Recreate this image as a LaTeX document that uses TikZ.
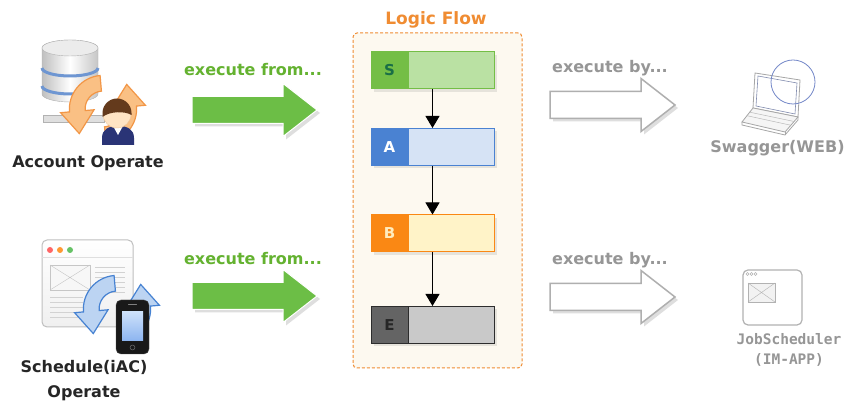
\documentclass[tikz,border=0pt]{standalone}
\usepackage{fontspec}
\setmainfont{DejaVu Sans}
\setmonofont{DejaVu Sans Mono}
\usetikzlibrary{positioning,arrows.meta,shadows,calc}

\definecolor{flowOrange}{RGB}{240,140,50}
\definecolor{panelFill}{RGB}{253,249,240}
\definecolor{sDark}{RGB}{116,190,70}
\definecolor{sLight}{RGB}{186,225,163}
\definecolor{sText}{RGB}{25,110,70}
\definecolor{aDark}{RGB}{74,130,210}
\definecolor{aLight}{RGB}{214,227,245}
\definecolor{bDark}{RGB}{250,136,20}
\definecolor{bLight}{RGB}{255,243,200}
\definecolor{bText}{RGB}{255,236,190}
\definecolor{eDark}{RGB}{100,100,100}
\definecolor{eLight}{RGB}{201,201,201}
\definecolor{eLine}{RGB}{45,45,45}
\definecolor{runGreen}{RGB}{108,190,70}
\definecolor{runGreenText}{RGB}{100,178,48}
\definecolor{idleGray}{RGB}{175,175,175}
\definecolor{labelGray}{RGB}{150,150,150}
\definecolor{cycOrange}{RGB}{242,150,70}
\definecolor{cycOrangeFill}{RGB}{250,192,132}
\definecolor{cycBlue}{RGB}{70,130,210}
\definecolor{cycBlueFill}{RGB}{188,212,242}
\definecolor{dbBand}{RGB}{110,150,210}
\definecolor{hairBrown}{RGB}{100,58,28}
\definecolor{suitNavy}{RGB}{42,52,118}
\definecolor{skin}{RGB}{255,228,196}
\definecolor{screenTop}{RGB}{205,225,250}
\definecolor{screenBottom}{RGB}{140,180,240}
\definecolor{globeBlue}{RGB}{115,135,200}
\definecolor{lidBlue}{RGB}{130,140,175}

% one bent arrow of a cycle icon: start angle, end angle, style
\newcommand{\cycpart}[3]{%
  \path[#3] (#1:30) arc[start angle=#1,end angle=#2,radius=30]
    -- (#2:38) -- ($(#2:23)+({#2+90}:20)$) -- (#2:8) -- (#2:16)
    arc[start angle=#2,end angle=#1,radius=16] -- cycle;}

\tikzset{
  blockarrow/.pic={
    \path[fill=black,opacity=.13,shift={(3,-3)}] (0,-13.5) -- (91,-13.5) -- (91,-26.5)
      -- (125,0) -- (91,26.5) -- (91,13.5) -- (0,13.5) -- cycle;
    \path[pic actions] (0,-13.5) -- (91,-13.5) -- (91,-26.5)
      -- (125,0) -- (91,26.5) -- (91,13.5) -- (0,13.5) -- cycle;
  }
}

\begin{document}
\begin{tikzpicture}[x=1pt,y=1pt,
  labelfont/.style={font=\bfseries\fontsize{16}{19}\selectfont},
  panel/.style={draw=flowOrange,fill=panelFill,dash pattern=on 3pt off 2pt,line width=1,
    rounded corners=4,minimum width=169,minimum height=335},
  flowbox/.style={draw,line width=1,minimum width=123,minimum height=37,inner sep=0,
    drop shadow={opacity=.18,shadow xshift=3pt,shadow yshift=-3pt}},
  tagbox/.style={draw,line width=1,minimum width=37,minimum height=37,inner sep=0,anchor=west,
    font=\bfseries\fontsize{15}{18}\selectfont},
  link/.style={-{Triangle[width=14pt,length=12pt]},line width=1}
]
  \path[use as bounding box,fill=white] (0,0) rectangle (844,406);

  % logic flow panel
  \node[panel] (flow) at (437.5,205.5) {};
  \node[font=\bfseries\fontsize{17}{20}\selectfont,text=flowOrange] (flowTitle) at (436,386) {Logic Flow};

  \node[flowbox,draw=sDark,fill=sLight] (S) at (432.5,335.5) {};
  \node[tagbox,draw=sDark,fill=sDark,text=sText] (Stag) at (S.west) {S};
  \node[flowbox,draw=aDark,fill=aLight] (A) at (432.5,259) {};
  \node[tagbox,draw=aDark,fill=aDark,text=white] (Atag) at (A.west) {A};
  \node[flowbox,draw=bDark,fill=bLight] (B) at (432.5,172.5) {};
  \node[tagbox,draw=bDark,fill=bDark,text=bText] (Btag) at (B.west) {B};
  \node[flowbox,draw=eLine,fill=eLight] (E) at (432.5,81) {};
  \node[tagbox,draw=eLine,fill=eDark,text=black!85] (Etag) at (E.west) {E};

  \draw[link] (S) -- (A);
  \draw[link] (A) -- (B);
  \draw[link] (B) -- (E);

  % big arrows
  \node[labelfont,text=runGreenText] (fromTop) at (253,336) {execute from...};
  \node[labelfont,text=runGreenText] (fromBot) at (253,147) {execute from...};
  \pic[fill=runGreen,draw=white,line width=1] at (192,296) {blockarrow};
  \pic[fill=runGreen,draw=white,line width=1] at (192,110) {blockarrow};

  \node[labelfont,text=labelGray] (byTop) at (610,338) {execute by...};
  \node[labelfont,text=labelGray] (byBot) at (610,146) {execute by...};
  \pic[fill=white,draw=idleGray,line width=1.5] at (550,301) {blockarrow};
  \pic[fill=white,draw=idleGray,line width=1.5] at (550,109) {blockarrow};

  % account operate icon
  \draw[gray!60,fill=gray!25] (43,284) rectangle (104,291);
  \path[left color=gray!50,right color=gray!45,middle color=white,draw=gray!60]
    (42,358) -- (42,312) arc[start angle=180,end angle=360,x radius=28,y radius=8]
    -- (98,358) arc[start angle=0,end angle=180,x radius=28,y radius=8] -- cycle;
  \draw[gray!60,fill=gray!15] (70,358) ellipse[x radius=28,y radius=8];
  \foreach \y in {338,320}
    \draw[dbBand,line width=3] (42,\y) arc[start angle=180,end angle=360,x radius=28,y radius=8];
  \begin{scope}[shift={(103,297)},scale=1.12]
    \cycpart{95}{185}{fill=cycOrangeFill,draw=cycOrange,line width=1.2}
    \cycpart{275}{365}{fill=cycOrangeFill,draw=cycOrange,line width=1.2}
  \end{scope}
  \fill[suitNavy] (102,261) -- (102,268) .. controls (102,277) and (109,280) .. (118,280)
    .. controls (127,280) and (134,277) .. (134,268) -- (134,261) -- cycle;
  \fill[white] (113,280) -- (118,271) -- (123,280) -- cycle;
  \draw[skin!70!brown,fill=skin] (117,292) circle[radius=14];
  \fill[hairBrown] (102.5,293) arc[start angle=180,end angle=0,radius=14.5]
    -- (131.5,291) .. controls (125,295) and (110,295) .. (102.5,289) -- cycle;
  \node[labelfont,text=black!85] (acctLabel) at (88,243) {Account Operate};

  % schedule operate icon
  \draw[gray!50,line width=1,top color=white,bottom color=gray!12,rounded corners=5]
    (42,79) rectangle (133,166);
  \draw[gray!25] (42,149) -- (133,149);
  \fill[red!60] (50,156) circle[radius=3];
  \fill[orange!80] (60,156) circle[radius=3];
  \fill[green!60!black!60] (70,156) circle[radius=3];
  \draw[gray!45,fill=gray!6] (50,116) rectangle (90,141);
  \draw[gray!45] (50,116) -- (90,141) (50,141) -- (90,116);
  \foreach \y in {139,134,...,114}
    \draw[gray!35] (95,\y) -- (125,\y);
  \foreach \y in {109,104,...,89}
    \draw[gray!35] (50,\y) -- (83,\y);
  \begin{scope}[shift={(117,97)},scale=1.12]
    \cycpart{95}{185}{fill=cycBlueFill,draw=cycBlue,line width=1.2}
    \cycpart{275}{365}{fill=cycBlueFill,draw=cycBlue,line width=1.2}
  \end{scope}
  \draw[black!70,fill=black!90,rounded corners=5] (116,52) rectangle (149,106);
  \fill[top color=screenTop,bottom color=screenBottom] (122,65) rectangle (143,94);
  \draw[gray,line width=1,line cap=round] (128.5,101) -- (136.5,101);
  \draw[gray] (132.5,58.5) circle[radius=2.5];
  \node[font=\bfseries\fontsize{16}{25}\selectfont,text=black!85,align=center]
    (schedLabel) at (84,25.5) {Schedule(iAC)\\Operate};

  % swagger laptop
  \draw[gray!70,fill=white,line width=.8] (753,298) -- (755,333) -- (800,326) -- (798,289) -- cycle;
  \draw[lidBlue,line width=.6] (756,300) -- (758,330) -- (797,323) -- (795,292) -- cycle;
  \draw[gray!70,fill=gray!8,line width=.8] (753,298) -- (798,289) -- (785,274) -- (742,284) -- cycle;
  \draw[gray!70,line width=.8] (742,284) -- (742,281) -- (785,271) -- (798,286) -- (798,289);
  \draw[gray!70,line width=.8] (785,271) -- (785,274);
  \foreach \t in {0.3,0.55}
    \draw[gray!55,line width=.5] ($(753,298)!\t!(742,284)$) -- ($(798,289)!\t!(785,274)$);
  \draw[globeBlue,line width=.8] (793,324) circle[radius=22];
  \node[labelfont,text=labelGray] (swaggerLabel) at (777.5,258) {Swagger(WEB)};

  % jobscheduler window
  \draw[gray!60,line width=1.2,fill=white,rounded corners=5] (743,81) rectangle (802,136);
  \foreach \x in {747.5,751.5,755.5}
    \draw[gray!60,line width=.6] (\x,132) circle[radius=1.5];
  \draw[gray!60,fill=gray!10] (748,104) rectangle (775,123);
  \draw[gray!60] (748,104) -- (775,123) (748,123) -- (775,104);
  \node[font=\ttfamily\bfseries\fontsize{14.5}{20}\selectfont,text=labelGray,align=center]
    (jobLabel) at (789,56) {JobScheduler\\(IM-APP)};
\end{tikzpicture}
\end{document}
